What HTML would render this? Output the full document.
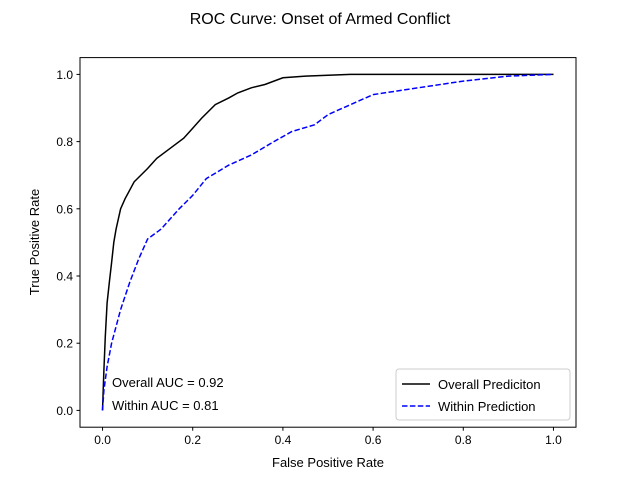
<!DOCTYPE html>
<html><head><meta charset="utf-8"><style>
body{margin:0;background:#fff;}
svg{display:block;font-family:"Liberation Sans","DejaVu Sans",sans-serif;}
</style></head><body>
<svg id="chart" width="640" height="480">
<text x="320" y="24" text-anchor="middle" font-size="16">ROC Curve: Onset of Armed Conflict</text>
<g id="axes"></g>
<text x="328" y="467" text-anchor="middle" font-size="13">False Positive Rate</text>
<text transform="translate(39,242) rotate(-90)" text-anchor="middle" font-size="13">True Positive Rate</text>
<text x="112" y="387" font-size="13">Overall AUC = 0.92</text>
<text x="112" y="410" font-size="13">Within AUC = 0.81</text>
<g>
<rect x="396" y="369" width="174" height="51" rx="3" fill="#fff" stroke="#ccc"/>
<line x1="402" y1="384" x2="430" y2="384" stroke="#000" stroke-width="1.5"/>
<text x="438" y="389" font-size="13">Overall Prediciton</text>
<line x1="402" y1="406" x2="430" y2="406" stroke="#00f" stroke-width="1.5" stroke-dasharray="5.5,2.4"/>
<text x="438" y="411" font-size="13">Within Prediction</text>
</g>
</svg>
<script>
const overallFpr=[0,0.003,0.006,0.01,0.015,0.02,0.025,0.03,0.04,0.05,0.07,0.1,0.12,0.15,0.18,0.2,0.22,0.25,0.28,0.3,0.33,0.36,0.4,0.45,0.55,1];
const overallTpr=[0,0.12,0.22,0.32,0.38,0.44,0.5,0.54,0.6,0.63,0.68,0.72,0.75,0.78,0.81,0.84,0.87,0.91,0.93,0.945,0.96,0.97,0.99,0.995,1,1];
const withinFpr=[0,0.003,0.01,0.02,0.03,0.04,0.06,0.08,0.1,0.13,0.15,0.17,0.2,0.23,0.28,0.33,0.38,0.42,0.47,0.5,0.55,0.6,0.7,0.8,0.9,1];
const withinTpr=[0,0.06,0.13,0.2,0.25,0.3,0.38,0.45,0.51,0.54,0.57,0.6,0.64,0.69,0.73,0.76,0.8,0.83,0.85,0.88,0.91,0.94,0.96,0.98,0.995,1];
const ticks=[0,0.2,0.4,0.6,0.8,1.0];
const tickLabels=["0.0","0.2","0.4","0.6","0.8","1.0"];
const L=80,R=576,T=57.6,B=427.2;
const sx=v=>L+(v+0.05)/1.1*(R-L);
const sy=v=>B-(v+0.05)/1.1*(B-T);
const NS="http://www.w3.org/2000/svg";
const g=document.getElementById('axes');
function mk(tag,attrs){const e=document.createElementNS(NS,tag);for(const k in attrs)e.setAttribute(k,attrs[k]);g.appendChild(e);return e;}
ticks.forEach((t,i)=>{
 let l=mk('line',{x1:sx(t),x2:sx(t),y1:B,y2:B+3.5,stroke:'#000'});
 
 
 let tx=mk('text',{x:sx(t),y:B+17,'text-anchor':'middle','font-size':12});tx.textContent=tickLabels[i];
 
 
 let l2=mk('line',{x1:L-3.5,x2:L,y1:sy(t),y2:sy(t),stroke:'#000'});
 
 
 let ty=mk('text',{x:L-7,y:sy(t)+4.5,'text-anchor':'end','font-size':12});ty.textContent=tickLabels[i];
 
 
});
function path(xs,ys){return xs.map((x,i)=>(i?'L':'M')+sx(x).toFixed(1)+','+sy(ys[i]).toFixed(1)).join('');}
let p1=mk('path',{d:path(overallFpr,overallTpr),fill:'none',stroke:'#000','stroke-width':1.5});


let p2=mk('path',{d:path(withinFpr,withinTpr),fill:'none',stroke:'#00f','stroke-width':1.5,'stroke-dasharray':'5.5,2.4'});


let fr=mk('rect',{x:L,y:T,width:R-L,height:B-T,fill:'none',stroke:'#000','stroke-width':1});


</script>
</body></html>
